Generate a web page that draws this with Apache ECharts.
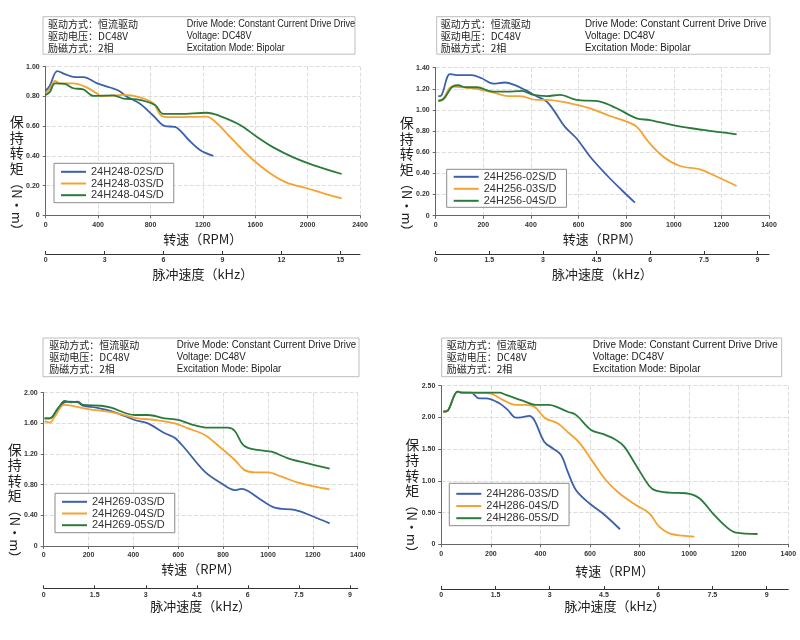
<!DOCTYPE html>
<html>
<head>
<meta charset="utf-8">
<script src="https://cdn.jsdelivr.net/npm/echarts@6/dist/echarts.min.js"></script>
<style>
  html, body { margin: 0; padding: 0; background: #fff; }
  #chart-container { width: 800px; height: 640px; }
</style>
</head>
<body>
<div id="chart-container"></div>
<script>
// ---- data: [RPM, torque N·m] ----
var s248_02 = [[0,0.84],[30,0.87],[89,0.97],[147,0.95],[224,0.93],[287,0.93],[389,0.89],[491,0.86],[555,0.84],[618,0.80],[720,0.75],[822,0.67],[911,0.60],[987,0.595],[1038,0.56],[1089,0.51],[1178,0.44],[1280,0.40]];
var s248_03 = [[0,0.825],[30,0.85],[71,0.905],[109,0.888],[211,0.888],[313,0.861],[389,0.821],[428,0.80],[593,0.81],[720,0.794],[822,0.754],[886,0.668],[949,0.66],[1229,0.664],[1280,0.641],[1382,0.552],[1484,0.458],[1585,0.372],[1713,0.283],[1840,0.22],[1993,0.182],[2120,0.148],[2260,0.114]];
var s248_04 = [[0,0.81],[33,0.832],[71,0.888],[147,0.884],[211,0.855],[287,0.848],[364,0.803],[516,0.807],[593,0.785],[695,0.78],[835,0.742],[898,0.682],[1026,0.682],[1229,0.69],[1331,0.668],[1484,0.608],[1611,0.529],[1738,0.457],[1891,0.39],[2043,0.338],[2260,0.278]];

var s256_02 = [[11,1.13],[25,1.14],[60,1.34],[88,1.33],[151,1.33],[193,1.30],[242,1.25],[291,1.26],[333,1.235],[375,1.19],[424,1.13],[466,1.08],[501,0.98],[543,0.84],[592,0.73],[648,0.56],[718,0.385],[781,0.243],[837,0.123]];
var s256_03 = [[11,1.09],[32,1.11],[67,1.22],[88,1.22],[158,1.205],[242,1.164],[305,1.132],[354,1.132],[424,1.095],[466,1.095],[564,1.063],[648,1.016],[732,0.943],[802,0.89],[844,0.842],[893,0.70],[956,0.558],[1026,0.47],[1110,0.439],[1166,0.385],[1264,0.281]];
var s256_04 = [[11,1.085],[32,1.10],[74,1.227],[95,1.234],[123,1.215],[172,1.215],[242,1.173],[298,1.173],[361,1.18],[410,1.142],[466,1.132],[522,1.142],[592,1.095],[690,1.079],[760,1.016],[844,0.921],[900,0.905],[1012,0.849],[1124,0.811],[1264,0.77]];

var s269_03 = [[4,1.666],[27,1.666],[64,1.796],[94,1.875],[116,1.883],[153,1.875],[175,1.83],[235,1.804],[317,1.744],[406,1.644],[465,1.60],[540,1.47],[584,1.413],[629,1.275],[718,0.97],[792,0.818],[852,0.73],[881,0.744],[911,0.718],[970,0.60],[1030,0.50],[1119,0.47],[1193,0.395],[1275,0.296]];
var s269_04 = [[4,1.63],[27,1.61],[49,1.687],[91,1.84],[123,1.83],[198,1.787],[287,1.752],[346,1.718],[420,1.666],[495,1.644],[584,1.60],[644,1.535],[718,1.448],[792,1.275],[852,1.122],[896,0.99],[941,0.96],[1000,0.96],[1060,0.905],[1134,0.826],[1208,0.774],[1275,0.74]];
var s269_05 = [[4,1.666],[27,1.666],[64,1.796],[94,1.892],[123,1.875],[153,1.883],[175,1.84],[257,1.83],[301,1.804],[406,1.709],[465,1.709],[540,1.666],[599,1.644],[658,1.588],[733,1.544],[822,1.544],[852,1.50],[889,1.318],[926,1.266],[1015,1.23],[1089,1.144],[1164,1.087],[1275,1.01]];

var s286_03 = [[8,2.09],[26,2.107],[66,2.407],[86,2.39],[120,2.39],[153,2.30],[180,2.30],[234,2.224],[268,2.118],[301,1.997],[322,2.0],[355,2.024],[375,1.96],[415,1.618],[449,1.514],[483,1.408],[510,1.145],[543,0.856],[597,0.647],[651,0.489],[721,0.237]];
var s286_04 = [[8,2.09],[26,2.107],[66,2.407],[86,2.39],[194,2.38],[248,2.276],[301,2.197],[335,2.197],[375,2.17],[419,1.987],[469,1.908],[516,1.75],[557,1.603],[611,1.303],[664,1.014],[718,0.804],[785,0.62],[839,0.489],[879,0.278],[920,0.173],[974,0.136],[1021,0.12]];
var s286_05 = [[8,2.09],[26,2.107],[66,2.407],[86,2.39],[234,2.39],[261,2.355],[328,2.265],[382,2.197],[436,2.197],[463,2.17],[510,2.09],[543,2.04],[604,1.803],[651,1.74],[705,1.645],[738,1.54],[785,1.25],[839,0.92],[866,0.845],[920,0.814],[987,0.805],[1041,0.726],[1095,0.489],[1149,0.278],[1189,0.183],[1276,0.162]];

var names248 = ['24H248-02S/D', '24H248-03S/D', '24H248-04S/D'];
var names256 = ['24H256-02S/D', '24H256-03S/D', '24H256-04S/D'];
var names269 = ['24H269-03S/D', '24H269-04S/D', '24H269-05S/D'];
var names286 = ['24H286-03S/D', '24H286-04S/D', '24H286-05S/D'];

var kTicks15 = [0, 3, 6, 9, 12, 15];
var kTicks9 = [0, 1.5, 3, 4.5, 6, 7.5, 9];

var headerCn = ['驱动方式：恒流驱动', '驱动电压：DC48V', '励磁方式：2相'];
var headerEn = ['Drive Mode: Constant Current Drive Drive', 'Voltage: DC48V', 'Excitation Mode: Bipolar'];

var colors = ['#3c60ab', '#f5a231', '#2a7b3b'];
var CJK = '"Noto Sans CJK SC", "Noto Sans", sans-serif';
var LAT = '"Liberation Sans", Arial, sans-serif';

// ---- layout of the four panels ----
var panels = [
  { left: 45.7, top: 66.7, width: 314.3, height: 148.6, xMax: 2400, xInt: 400, yMax: 1.0, yInt: 0.2,
    kMax: 16, kTicks: kTicks15, kOffset: 38.7, rpmGap: 17, kGap: 14,
    names: names248, data: [s248_02, s248_03, s248_04],
    leg: { left: 54, top: 163.3, padding: [3, 10, 2, 7], gap: 0.7 },
    box: { x: 43, y: 16.7, w: 312, h: 37.5, cn: 48, en: 186.7, enScale: 0.91 } },
  { left: 435.7, top: 67.7, width: 333.3, height: 148, xMax: 1400, xInt: 200, yMax: 1.4, yInt: 0.2,
    kMax: 9.32, kTicks: kTicks9, kOffset: 38.3, rpmGap: 17, kGap: 14,
    names: names256, data: [s256_02, s256_03, s256_04],
    leg: { left: 446.7, top: 169.3, padding: [2, 10, 1, 7], gap: 1 },
    box: { x: 436.7, y: 16.7, w: 333.3, h: 37.5, cn: 440.7, en: 585, enScale: 0.98 } },
  { left: 43.7, top: 392.7, width: 314, height: 153.3, xMax: 1400, xInt: 200, yMax: 2.0, yInt: 0.4,
    kMax: 9.23, kTicks: kTicks9, kOffset: 42.3, rpmGap: 17, kGap: 11,
    names: names269, data: [s269_03, s269_04, s269_05],
    leg: { left: 55, top: 493.3, padding: [3, 10, 2, 7], gap: 0.7 },
    box: { x: 43, y: 338, w: 316, h: 38.7, cn: 49.3, en: 176.7, enScale: 0.97 } },
  { left: 441.3, top: 385.7, width: 347, height: 158.6, xMax: 1400, xInt: 200, yMax: 2.5, yInt: 0.5,
    kMax: 9.6, kTicks: kTicks9, kOffset: 44.7, rpmGap: 20, kGap: 11,
    names: names286, data: [s286_03, s286_04, s286_05],
    leg: { left: 449.3, top: 483.3, padding: [5, 10, 2, 7], gap: 1.2 },
    box: { x: 441.7, y: 338, w: 340, h: 38.7, cn: 446.7, en: 592.7, enScale: 1.0 } }
];

var tickLabel = { fontSize: 7, fontWeight: 'bold', color: '#333', fontFamily: LAT };

var grids = [], xAxes = [], yAxes = [], series = [], legends = [], graphics = [];

panels.forEach(function (p, i) {
  grids.push({ left: p.left, top: p.top, width: p.width, height: p.height });

  xAxes.push({
    gridIndex: i, type: 'value', min: 0, max: p.xMax, interval: p.xInt,
    name: '转速（RPM）', nameLocation: 'middle', nameGap: p.rpmGap,
    nameTextStyle: { fontSize: 13, color: '#222', fontFamily: CJK },
    axisLine: { lineStyle: { color: '#666' } },
    axisTick: { length: 3, lineStyle: { color: '#666' } },
    axisLabel: Object.assign({ margin: 6, formatter: function (v) { return String(v); } }, tickLabel),
    splitLine: { show: true, lineStyle: { type: 'dashed', color: '#dcdcdc' } }
  });
  xAxes.push({
    gridIndex: i, type: 'value', position: 'bottom', offset: p.kOffset, min: 0, max: p.kMax,
    name: '脉冲速度（kHz）', nameLocation: 'middle', nameGap: p.kGap,
    nameTextStyle: { fontSize: 13, color: '#222', fontFamily: CJK },
    axisLine: { onZero: false, lineStyle: { color: '#333' } },
    axisTick: { inside: true, length: 3, customValues: p.kTicks, lineStyle: { color: '#333' } },
    axisLabel: Object.assign({ margin: 3, customValues: p.kTicks }, tickLabel),
    splitLine: { show: false }
  });

  yAxes.push({
    gridIndex: i, type: 'value', min: 0, max: p.yMax, interval: p.yInt,
    axisLine: { show: true, lineStyle: { color: '#666' } },
    axisTick: { show: true, length: 3, lineStyle: { color: '#666' } },
    axisLabel: Object.assign({ margin: 6, formatter: function (v) { return v === 0 ? '0' : v.toFixed(2); } }, tickLabel),
    splitLine: { show: true, lineStyle: { type: 'dashed', color: '#dcdcdc' } }
  });

  p.data.forEach(function (d, k) {
    series.push({
      type: 'line', name: p.names[k], xAxisIndex: i * 2, yAxisIndex: i,
      data: d, smooth: 0.35, symbol: 'none',
      lineStyle: { width: 1.8, color: colors[k] }, itemStyle: { color: colors[k] }
    });
  });

  legends.push({
    data: p.names, orient: 'vertical', left: p.leg.left, top: p.leg.top,
    icon: 'rect', itemWidth: 25, itemHeight: 2, itemGap: p.leg.gap, padding: p.leg.padding,
    borderColor: '#8a8a8a', borderWidth: 1, borderRadius: 0, backgroundColor: '#fff',
    textStyle: { fontSize: 11, lineHeight: 11, color: '#333', fontFamily: LAT }, selectedMode: false
  });

  // header table
  var b = p.box;
  var rows = [b.y + 7.5, b.y + 19.3, b.y + 31.5];
  var kids = [{ type: 'rect', shape: { x: b.x, y: b.y, width: b.w, height: b.h },
    style: { fill: '#fff', stroke: '#bdbdbd', lineWidth: 1 } }];
  rows.forEach(function (ry, r) {
    kids.push({ type: 'text', x: b.cn, y: ry, style: { text: headerCn[r], fontSize: 10, fontFamily: CJK, fill: '#222', textVerticalAlign: 'middle' } });
    kids.push({ type: 'text', x: b.en, y: ry, scaleX: b.enScale, style: { text: headerEn[r], fontSize: 10, fontFamily: LAT, fill: '#222', textVerticalAlign: 'middle' } });
  });
  graphics.push({ type: 'group', children: kids });

  // y axis title: stacked characters, then the unit turned sideways (reads top to bottom)
  var tx = p.left - 29;
  var ty = p.top + 0.32 * p.height;
  graphics.push({ type: 'text', x: tx, y: ty,
    style: { text: '保\n持\n转\n矩', fontSize: 14, lineHeight: 15.5, fontFamily: CJK, fill: '#222', textAlign: 'center' } });
  graphics.push({ type: 'text', x: tx, y: ty + 62, rotation: -Math.PI / 2,
    style: { text: '（N·m）', fontSize: 13, fontFamily: CJK, fill: '#222', textAlign: 'left', textVerticalAlign: 'middle' } });
});

var myChart = echarts.init(document.getElementById('chart-container'));
myChart.setOption({
  animation: false,
  backgroundColor: '#fff',
  grid: grids,
  xAxis: xAxes,
  yAxis: yAxes,
  legend: legends,
  series: series,
  graphic: graphics
});
</script>
</body>
</html>
